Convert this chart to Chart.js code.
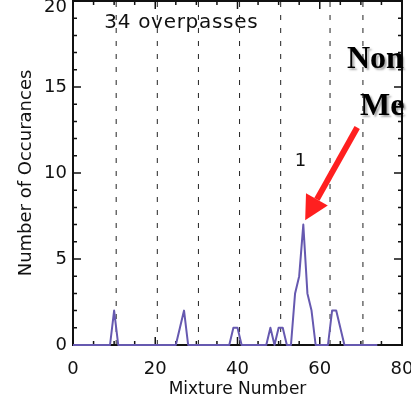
<!DOCTYPE html>
<html>
<head>
<meta charset="utf-8">
<script src="https://cdn.jsdelivr.net/npm/chart.js@4/dist/chart.umd.min.js"></script>
<style>
  body { margin: 0; background: #fff; }
  canvas { display: block; }
</style>
</head>
<body>
<canvas id="mix-chart" width="411" height="400"></canvas>
<script>
// occurrences per mixture number, mixture 0..74
var counts = [
  0, 0, 0, 0, 0, 0, 0, 0, 0, 0,   // 0-9
  2, 0, 0, 0, 0, 0, 0, 0, 0, 0,   // 10-19
  0, 0, 0, 0, 0, 0, 1, 2, 0, 0,   // 20-29
  0, 0, 0, 0, 0, 0, 0, 0, 0, 1,   // 30-39
  1, 0, 0, 0, 0, 0, 0, 0, 1, 0,   // 40-49
  1, 1, 0, 0, 3, 4, 7, 3, 2, 0,   // 50-59
  0, 0, 0, 2, 2, 1, 0, 0, 0, 0,   // 60-69
  0, 0, 0, 0, 0                   // 70-74
];
var mixtures = counts.map(function (c, i) { return i; });
var boundaries = [10.5, 20.5, 30.5, 40.5, 50.5, 62.5, 70.5];
var xTicks = [0, 20, 40, 60, 80];
var yTicks = [0, 5, 10, 15, 20];

var axisFont = '"DejaVu Sans", sans-serif';

var datasets = [{
  data: mixtures.map(function (m, i) { return { x: m, y: counts[i] }; }),
  borderColor: '#6659b0',
  borderWidth: 2,
  borderJoinStyle: 'round',
  pointRadius: 0,
  tension: 0,
  clip: 4,
  order: 0
}];
boundaries.forEach(function (b) {
  datasets.push({
    data: [{ x: b, y: 0 }, { x: b, y: 20 }],
    borderColor: '#222',
    borderWidth: 1,
    borderDash: [5, 8],
    pointRadius: 0,
    order: 1
  });
});

// frame and inward ticks go under the series, notes go on top
var decorations = {
  id: 'decorations',
  beforeDatasetsDraw: function (chart) {
    var ctx = chart.ctx, a = chart.chartArea;
    var xs = chart.scales.x, ys = chart.scales.y;
    ctx.save();
    ctx.setLineDash([]);
    ctx.strokeStyle = '#111';
    ctx.lineWidth = 2;
    ctx.beginPath();
    ctx.moveTo(a.left, a.top);
    ctx.lineTo(a.right, a.top);
    ctx.lineTo(a.right, a.bottom);
    ctx.lineTo(a.left, a.bottom);
    ctx.closePath();
    ctx.stroke();
    ctx.lineWidth = 1.5;
    ctx.beginPath();
    for (var v = 0; v <= 80; v += 5) {
      var px = xs.getPixelForValue(v);
      var len = v % 20 === 0 ? 8 : 4;
      ctx.moveTo(px, a.bottom); ctx.lineTo(px, a.bottom - len);
      ctx.moveTo(px, a.top); ctx.lineTo(px, a.top + len);
    }
    for (var w = 0; w <= 20; w += 1) {
      var py = ys.getPixelForValue(w);
      var l2 = w % 5 === 0 ? 8 : 4;
      ctx.moveTo(a.left, py); ctx.lineTo(a.left + l2, py);
      ctx.moveTo(a.right, py); ctx.lineTo(a.right - l2, py);
    }
    ctx.stroke();
    ctx.restore();
  },
  afterDraw: function (chart) {
    var ctx = chart.ctx;
    var xs = chart.scales.x, ys = chart.scales.y;
    ctx.save();
    ctx.fillStyle = '#111';
    ctx.textBaseline = 'alphabetic';
    ctx.font = '20px ' + axisFont;
    ctx.letterSpacing = '0.7px';
    ctx.fillText('34 overpasses', xs.getPixelForValue(7.6), ys.getPixelForValue(18.45));
    ctx.letterSpacing = '0px';
    ctx.font = '18px ' + axisFont;
    ctx.textAlign = 'center';
    ctx.fillText('1', xs.getPixelForValue(55.3), ys.getPixelForValue(10.4));

    // red arrow
    var tx = xs.getPixelForValue(69.1), ty = ys.getPixelForValue(12.64);
    var hx = xs.getPixelForValue(56.45), hy = ys.getPixelForValue(7.25);
    var ang = Math.atan2(hy - ty, hx - tx);
    var headLen = 24, headHalf = 12.5;
    var bx = hx - headLen * Math.cos(ang), by = hy - headLen * Math.sin(ang);
    ctx.strokeStyle = '#ff1f1f';
    ctx.fillStyle = '#ff1f1f';
    ctx.lineWidth = 6;
    ctx.beginPath();
    ctx.moveTo(tx, ty); ctx.lineTo(bx, by);
    ctx.stroke();
    ctx.beginPath();
    ctx.moveTo(hx, hy);
    ctx.lineTo(bx + headHalf * Math.sin(ang), by - headHalf * Math.cos(ang));
    ctx.lineTo(bx - headHalf * Math.sin(ang), by + headHalf * Math.cos(ang));
    ctx.closePath();
    ctx.fill();

    // bold label, cut by the right edge
    ctx.textAlign = 'left';
    ctx.fillStyle = '#000';
    ctx.font = 'bold 32px "Liberation Serif", serif';
    ctx.shadowColor = 'rgba(0,0,0,0.35)';
    ctx.shadowOffsetX = 2;
    ctx.shadowOffsetY = 2;
    ctx.shadowBlur = 2;
    ctx.fillText('Non', 347, 68);
    ctx.fillText('Me', 360, 115);
    ctx.restore();
  }
};

new Chart(document.getElementById('mix-chart'), {
  type: 'line',
  data: { datasets: datasets },
  options: {
    responsive: false,
    devicePixelRatio: 1,
    animation: false,
    layout: { padding: { top: 1, right: 9, left: 0, bottom: 0 } },
    plugins: { legend: { display: false }, tooltip: { enabled: false } },
    scales: {
      x: {
        type: 'linear',
        min: 0, max: 80,
        afterFit: function (s) { s.height = 55; s.paddingLeft = 0; s.paddingRight = 0; },
        afterBuildTicks: function (s) { s.ticks = xTicks.map(function (v) { return { value: v }; }); },
        grid: { display: false, drawTicks: false },
        border: { display: false },
        ticks: { font: { family: axisFont, size: 18 }, color: '#111', padding: 14, maxRotation: 0, autoSkip: false },
        title: { display: true, text: 'Mixture Number', color: '#111', font: { family: axisFont, size: 17 }, padding: { top: 0, bottom: 0 } }
      },
      y: {
        min: 0, max: 20,
        afterFit: function (s) { s.width = 73; s.paddingTop = 0; s.paddingBottom = 0; },
        afterBuildTicks: function (s) { s.ticks = yTicks.map(function (v) { return { value: v }; }); },
        grid: { display: false, drawTicks: false },
        border: { display: false },
        ticks: {
          font: { family: axisFont, size: 18, lineHeight: 0.75 },
          color: '#111',
          padding: 6,
          // top label sits just inside the window, as in the original
          callback: function (v) { return v === 20 ? ['', '20'] : String(v); }
        },
        title: { display: true, text: 'Number of Occurances', color: '#111', font: { family: axisFont, size: 18 }, padding: { top: 16, bottom: 0 } }
      }
    }
  },
  plugins: [decorations]
});
</script>
</body>
</html>
